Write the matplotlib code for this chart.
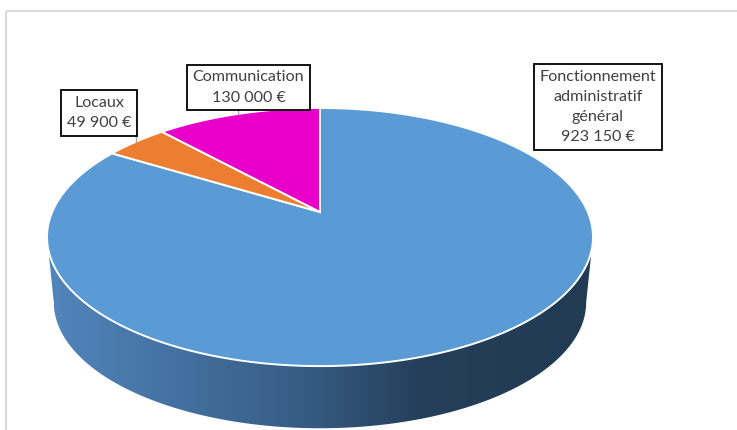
import numpy as np
import matplotlib
matplotlib.use("Agg")
import matplotlib.pyplot as plt
from matplotlib.patches import Polygon, Rectangle

# Budget breakdown (EUR)
categories = ["Fonctionnement\nadministratif\ngénéral", "Locaux", "Communication"]
values = [923150, 49900, 130000]
colors = ["#5b9bd5", "#ed7d31", "#e800ca"]

# Pie geometry in pixel space (perspective-tilted disc)
CX, CY = 320.0, 212.0       # projected centre of the top face
A, B, P = 267.8, 124.2, 0.194  # half-axes and perspective strength
BOTTOM_SCALE, BOTTOM_CY = 0.975, 278.0


def project(phi_deg, scale=1.0, cy=CY):
    """Map angle (degrees clockwise from 12 o'clock) on the disc rim to pixels."""
    phi = np.radians(phi_deg)
    u, v = np.sin(phi), np.cos(phi)
    w = 1.0 + P * v
    return CX + A * scale * u / w, cy - B * scale * v / w


def fmt_eur(x):
    return f"{x:,}".replace(",", " ") + " €"


fig = plt.figure(figsize=(7.37, 4.30), dpi=100)
ax = fig.add_axes([0, 0, 1, 1])
ax.set_xlim(0, 737)
ax.set_ylim(430, 0)
ax.axis("off")

# chart-area frame
ax.add_patch(Rectangle((6.5, 10.5), 760, 440, fill=False,
                       edgecolor="#d9d9d9", lw=1.5, zorder=0))

# --- side wall of the front (visible) part of the disc ---
phi_l = 360 - np.degrees(np.arccos(-P))   # left silhouette
phi_r = np.degrees(np.arccos(-P))         # right silhouette
arc = np.linspace(phi_r, phi_l, 200)
tx, ty = project(arc)
bx, by = project(arc[::-1], BOTTOM_SCALE, BOTTOM_CY)
side = Polygon(np.column_stack([np.r_[tx, bx], np.r_[ty, by]]),
               closed=True, facecolor="none", edgecolor="none")
ax.add_patch(side)

stops_x = [40, 300, 420, 610]
stops_c = np.array([[82, 135, 190], [55, 93, 133], [37, 63, 90], [34, 58, 82]]) / 255.0
xs = np.linspace(0, 737, 737)
grad = np.stack([np.interp(xs, stops_x, stops_c[:, k]) for k in range(3)], axis=-1)
img = ax.imshow(grad[np.newaxis, :, :], extent=[0, 737, 430, 0], aspect="auto",
                zorder=1, interpolation="bilinear")
img.set_clip_path(side)

# --- top face wedges ---
total = float(sum(values))
start = 0.0
mids = []
for val, col in zip(values, colors):
    span = 360.0 * val / total
    ang = np.linspace(start, start + span, max(int(span * 2), 4))
    px, py = project(ang)
    poly = Polygon(np.column_stack([np.r_[CX, px], np.r_[CY, py]]), closed=True,
                   facecolor=col, edgecolor="white", lw=1.4, zorder=2,
                   joinstyle="miter")
    ax.add_patch(poly)
    mids.append(start + span / 2)
    start += span

# --- data labels ---
label_pos = [(598, 107), (99, 113), (248.5, 87.5)]
for i, (cat, val, (lx, ly)) in enumerate(zip(categories, values, label_pos)):
    ax.text(lx, ly, f"{cat}\n{fmt_eur(val)}", ha="center", va="center",
            fontsize=11.6, family=["Lato", "DejaVu Sans"], color="#404040",
            linespacing=1.55, zorder=5,
            bbox=dict(boxstyle="square,pad=0.36", facecolor="white",
                      edgecolor="black", lw=1.3))
    if i > 0:
        mx, my = project(mids[i])
        ax.plot([mx, mx], [my, ly], color="#a6a6a6", lw=1.0, zorder=3)

fig.savefig("out.png", dpi=100)
